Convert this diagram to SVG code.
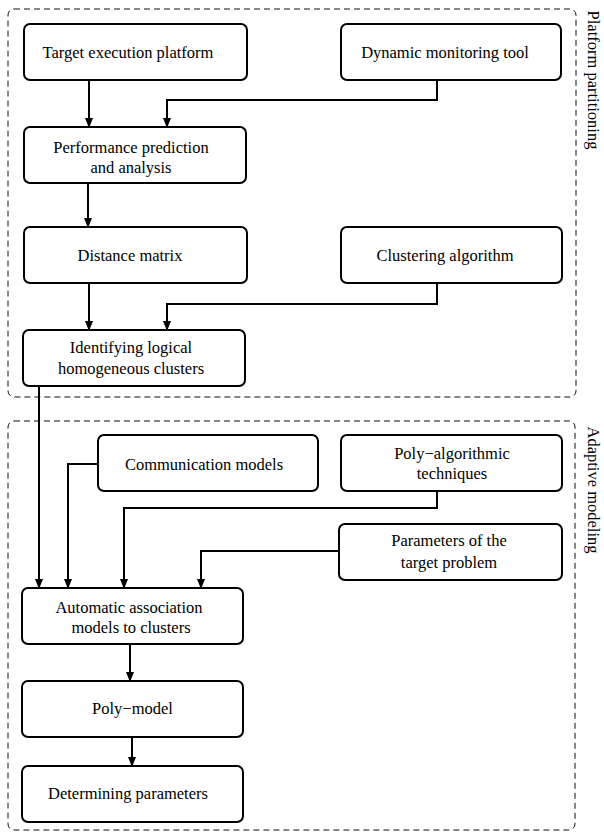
<svg xmlns="http://www.w3.org/2000/svg" width="604" height="834" viewBox="0 0 604 834">
<defs>
<marker id="ah" markerWidth="10" markerHeight="10" refX="9" refY="5" orient="auto" markerUnits="userSpaceOnUse">
<path d="M0,1 L10,5 L0,9 Z" fill="#000"/>
</marker>
<style>
.box{fill:#fff;stroke:#000;stroke-width:2}
.grp{fill:none;stroke:#111;stroke-width:1;stroke-dasharray:6,4}
.t{font-family:"Liberation Serif","Times New Roman",serif;font-size:16.5px;fill:#000;text-anchor:middle}
.c{fill:none;stroke:#000;stroke-width:2;marker-end:url(#ah)}
</style>
</defs>
<rect width="604" height="834" fill="#fff"/>
<g id="platform-partitioning">
<rect class="grp" x="8" y="9" width="568" height="388" rx="6"/>
<text class="t" transform="translate(588,80) rotate(90)">Platform partitioning</text>
</g>
<g id="adaptive-modeling">
<rect class="grp" x="8" y="421" width="567" height="409" rx="6"/>
<text class="t" transform="translate(588,490) rotate(90)">Adaptive modeling</text>
</g>
<g id="connectors">
<path class="c" d="M89,80 V127"/>
<path class="c" d="M437,80 V100 H167 V127"/>
<path class="c" d="M88,183 V227"/>
<path class="c" d="M89,283 V330"/>
<path class="c" d="M437,283 V304 H167 V330"/>
<path class="c" d="M39,386 V588"/>
<path class="c" d="M98,464 H68 V588"/>
<path class="c" d="M437,491 V508 H124 V588"/>
<path class="c" d="M339,551 H201 V588"/>
<path class="c" d="M130,644 V681"/>
<path class="c" d="M132,737 V766"/>
</g>
<g id="target">
<rect class="box" x="24" y="24" width="223" height="56" rx="6"/>
<text class="t" x="128" y="57.5">Target execution platform</text>
</g>
<g id="dynamic">
<rect class="box" x="341" y="24" width="220" height="56" rx="6"/>
<text class="t" x="445" y="57.5">Dynamic monitoring tool</text>
</g>
<g id="performance">
<rect class="box" x="24" y="127" width="222" height="56" rx="6"/>
<text class="t" x="131" y="152.5">Performance prediction</text>
<text class="t" x="131" y="173">and analysis</text>
</g>
<g id="distance">
<rect class="box" x="24" y="227" width="223" height="56" rx="6"/>
<text class="t" x="130" y="260.5">Distance matrix</text>
</g>
<g id="clustering">
<rect class="box" x="341" y="227" width="221" height="56" rx="6"/>
<text class="t" x="445" y="260.5">Clustering algorithm</text>
</g>
<g id="identifying">
<rect class="box" x="23" y="330" width="222" height="56" rx="6"/>
<text class="t" x="131" y="352.5">Identifying logical</text>
<text class="t" x="131" y="373.5">homogeneous clusters</text>
</g>
<g id="communication">
<rect class="box" x="98" y="435" width="220" height="56" rx="6"/>
<text class="t" x="204" y="469.5">Communication models</text>
</g>
<g id="polyalg">
<rect class="box" x="341" y="435" width="221" height="56" rx="6"/>
<text class="t" x="452" y="458.5">Poly−algorithmic</text>
<text class="t" x="452" y="478.5">techniques</text>
</g>
<g id="parameters">
<rect class="box" x="339" y="524" width="223" height="56" rx="6"/>
<text class="t" x="449" y="545.5">Parameters of the</text>
<text class="t" x="449" y="567.5">target problem</text>
</g>
<g id="automatic">
<rect class="box" x="22" y="588" width="221" height="56" rx="6"/>
<text class="t" x="129" y="612.5">Automatic association</text>
<text class="t" x="131" y="632.5">models to clusters</text>
</g>
<g id="polymodel">
<rect class="box" x="22" y="681" width="221" height="56" rx="6"/>
<text class="t" x="132.5" y="713.5">Poly−model</text>
</g>
<g id="determining">
<rect class="box" x="22" y="766" width="221" height="56" rx="6"/>
<text class="t" x="128" y="798.5">Determining parameters</text>
</g>
</svg>
